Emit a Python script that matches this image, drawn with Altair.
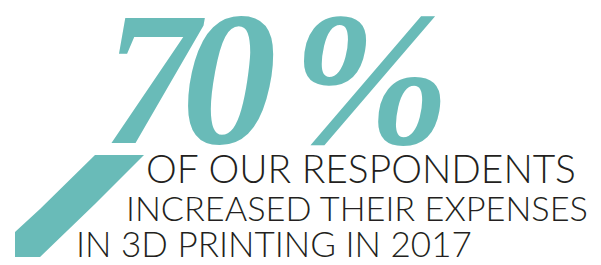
import altair as alt
import pandas as pd

# ---- content ----
big_glyphs = ["7", "0", "%"]
text_lines = ["OF OUR RESPONDENTS", "INCREASED THEIR EXPENSES", "IN 3D PRINTING IN 2017"]

# ---- layout (image pixel coordinates) ----
big_x = [151, 229, 371]
big_y = [143, 143, 143]
line_x = [146, 126, 76]
line_y = [183, 221, 257]
line_size = [38.9, 34.3, 35.0]
shape_x = [15, 40, 95, 144]
shape_top = [232, 209, 155, 155]
shape_bottom = [257, 257, 204, 155]

TEAL = "#69bbb8"
DARK = "#231f20"

xs = alt.Scale(domain=[8, 593])
ys = alt.Scale(domain=[8, 257], reverse=True)

shape_df = pd.DataFrame({"x": shape_x, "top": shape_top, "bottom": shape_bottom})
shape = alt.Chart(shape_df).mark_area(color=TEAL, opacity=1).encode(
    x=alt.X("x:Q", scale=xs, axis=None),
    y=alt.Y("top:Q", scale=ys, axis=None),
    y2="bottom:Q",
)

big_df = pd.DataFrame({"g": big_glyphs, "x": big_x, "y": big_y})
big = alt.Chart(big_df).mark_text(
    font="Liberation Serif", fontWeight="bold", fontStyle="italic",
    fontSize=190, color=TEAL, align="center", baseline="alphabetic",
).encode(
    x=alt.X("x:Q", scale=xs, axis=None),
    y=alt.Y("y:Q", scale=ys, axis=None),
    text="g:N",
)

lines_df = pd.DataFrame({"t": text_lines, "x": line_x, "y": line_y, "s": line_size})
lines = alt.Chart(lines_df).mark_text(
    font="Lato", fontWeight=300, color=DARK,
    align="left", baseline="alphabetic",
).encode(
    x=alt.X("x:Q", scale=xs, axis=None),
    y=alt.Y("y:Q", scale=ys, axis=None),
    size=alt.Size("s:Q", scale=None, legend=None),
    text="t:N",
)

chart = alt.layer(shape, big, lines).properties(
    width=585, height=249, autosize=alt.AutoSizeParams(type="none"), padding=0,
    background="white",
).configure_view(strokeWidth=0)

chart.save("out.html", embed_options={"renderer": "svg", "actions": False})
